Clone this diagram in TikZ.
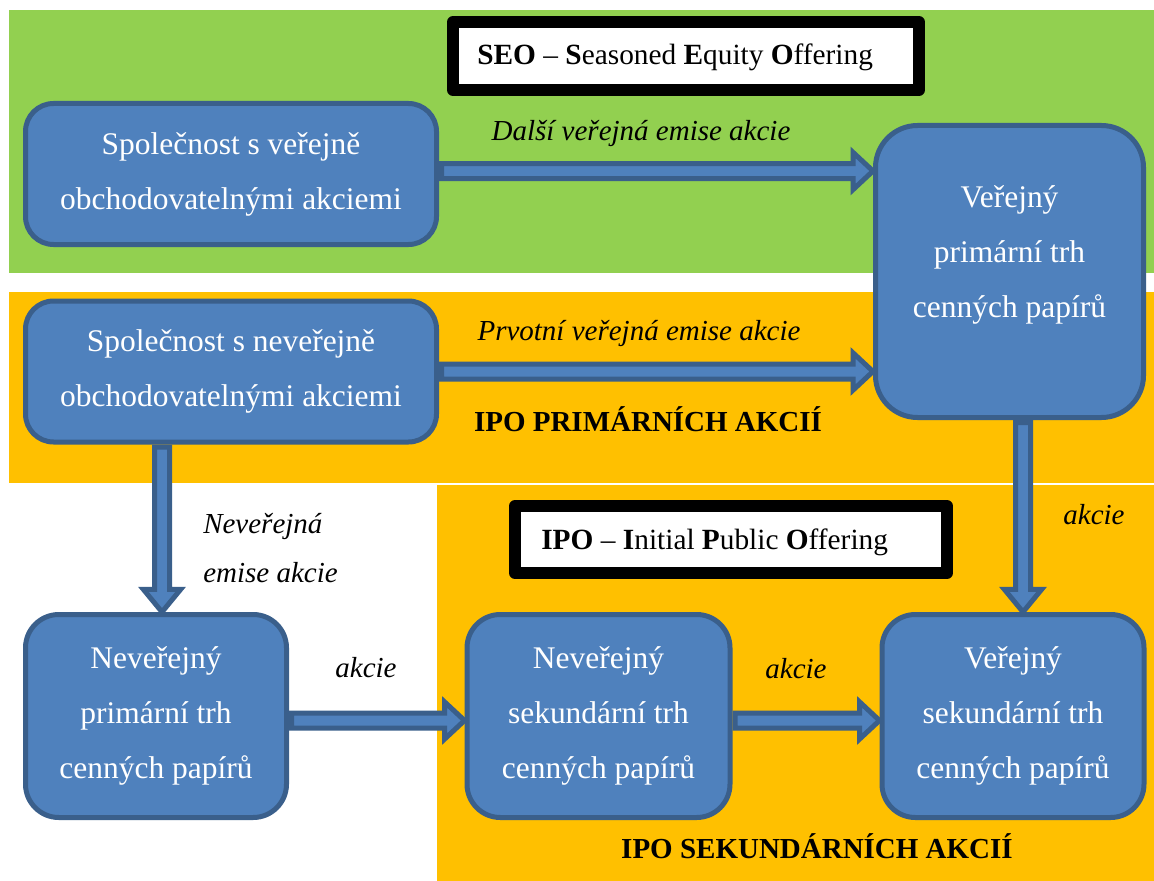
\documentclass[tikz,border=0pt]{standalone}
\usepackage{fontspec}
\setmainfont{Liberation Serif}
\usetikzlibrary{calc}

\definecolor{bandgreen}{HTML}{92D050}
\definecolor{bandorange}{HTML}{FFC000}
\definecolor{boxblue}{HTML}{4F81BD}
\definecolor{boxedge}{HTML}{3A5F8B}

% block arrow geometry: shaft half-width, head half-width, head length
\newcommand\arrW{5.625pt}
\newcommand\arrH{14pt}
\newcommand\arrL{15pt}
\newcommand\arrLv{17pt}

% rightward block arrow from #1 to the x of #2
\newcommand\harrow[2]{%
  \draw[blockarrow] let \p1=(#1), \p2=(#2) in
    (\x1,\y1+\arrW) -- (\x2-\arrL,\y1+\arrW) -- (\x2-\arrL,\y1+\arrH) --
    (\x2,\y1) -- (\x2-\arrL,\y1-\arrH) -- (\x2-\arrL,\y1-\arrW) --
    (\x1,\y1-\arrW) -- cycle;}
% downward block arrow from #1 to the y of #2
\newcommand\varrow[2]{%
  \draw[blockarrow] let \p1=(#1), \p2=(#2) in
    (\x1-\arrW,\y1) -- (\x1-\arrW,\y2+\arrLv) -- (\x1-\arrH,\y2+\arrLv) --
    (\x1,\y2) -- (\x1+\arrH,\y2+\arrLv) -- (\x1+\arrW,\y2+\arrLv) --
    (\x1+\arrW,\y1) -- cycle;}

\tikzset{
  box/.style={draw=boxedge, fill=boxblue, line width=3.75pt, text=white,
    align=center, inner sep=0pt, font=\fontsize{23.6}{41.25}\selectfont},
  boxtext/.style={text=white, align=center, inner sep=0pt,
    font=\fontsize{23.6}{41.25}\selectfont},
  tagframe/.style={draw=black, fill=white, line width=9pt, line join=round,
    inner sep=0pt},
  tagtext/.style={inner sep=0pt, anchor=base west,
    font=\fontsize{22}{30}\selectfont},
  caption/.style={inner sep=0pt, anchor=base,
    font=\fontsize{21.75}{36.75}\selectfont\itshape},
  heading/.style={inner sep=0pt, anchor=base,
    font=\fontsize{21.75}{36.75}\selectfont\bfseries},
  blockarrow/.style={draw=boxedge, fill=boxblue, line width=3.75pt},
}

\begin{document}
\begin{tikzpicture}[x=0.75pt, y=-0.75pt]
\useasboundingbox (0,0) rectangle (1154,881);

% coloured bands
\fill[bandgreen]  (9,10)   rectangle (1154,273);
\fill[bandorange] (9,292)  rectangle (1154,483);
\fill[bandorange] (437,485) rectangle (1154,881);

% title frames
\node[tagframe, minimum width=349.5pt, minimum height=51pt] (seoframe) at (686,56) {};
\node[tagtext] (seo) at (477,65)
  {\textbf{SEO} – \textbf{S}easoned \textbf{E}quity \textbf{O}ffering};
\node[tagframe, minimum width=324pt, minimum height=50.25pt] (ipoframe) at (731,539.5) {};
\node[tagtext] (ipo) at (541,549)
  {\textbf{IPO} – \textbf{I}nitial \textbf{P}ublic \textbf{O}ffering};

% market boxes
\node[box, rounded corners=21pt, minimum width=308.25pt, minimum height=105.75pt]
  (A) at (231,174) {Společnost s veřejně\\obchodovatelnými akciemi};
\node[box, rounded corners=21pt, minimum width=308.25pt, minimum height=105.75pt]
  (B) at (231,371.5) {Společnost s neveřejně\\obchodovatelnými akciemi};
\node[box, rounded corners=31.5pt, minimum width=201pt, minimum height=219pt]
  (C) at (1009.5,271.5) {};
\node[boxtext] (Ctext) at (1009.5,255) {Veřejný\\primární trh\\cenných papírů};
\node[box, rounded corners=25pt, minimum width=195.75pt, minimum height=152.25pt]
  (D) at (156,716) {Neveřejný\\primární trh\\cenných papírů};
\node[box, rounded corners=25pt, minimum width=197.25pt, minimum height=152.25pt]
  (E) at (598.5,716) {Neveřejný\\sekundární trh\\cenných papírů};
\node[box, rounded corners=25pt, minimum width=196.5pt, minimum height=152.25pt]
  (F) at (1013,716) {Veřejný\\sekundární trh\\cenných papírů};

% flows between the markets
\harrow{$(A.east)+(2.5,-3)$}{$(A.east -| C.west)+(0,-3)$}
\harrow{$(B.east)+(2.5,0)$}{B.east -| C.west}
\varrow{$(B.south -| D.north)+(6,2.5)$}{$(D.north)+(6,0)$}
\varrow{$(C.south -| F.north)+(10,2.5)$}{$(F.north)+(10,0)$}
\harrow{$(D.east)+(2.5,4.5)$}{$(E.west)+(0,4.5)$}
\harrow{$(E.east)+(2.5,4.5)$}{$(F.west)+(0,4.5)$}

% flow labels
\node[caption] (lseo) at (641,141) {Další veřejná emise akcie};
\node[caption] (lipo) at (639,340) {Prvotní veřejná emise akcie};
\node[caption, anchor=base west, align=left] (lpriv) at (203,582)
  {Neveřejná\\emise akcie};
\node[caption] (lcf) at (1094,524) {akcie};
\node[caption] (lde) at (366,677) {akcie};
\node[caption] (lef) at (796,678) {akcie};

% band headings
\node[heading] (hprim) at (648,431) {IPO PRIMÁRNÍCH AKCIÍ};
\node[heading] (hsec) at (817,858) {IPO SEKUNDÁRNÍCH AKCIÍ};
\end{tikzpicture}
\end{document}
